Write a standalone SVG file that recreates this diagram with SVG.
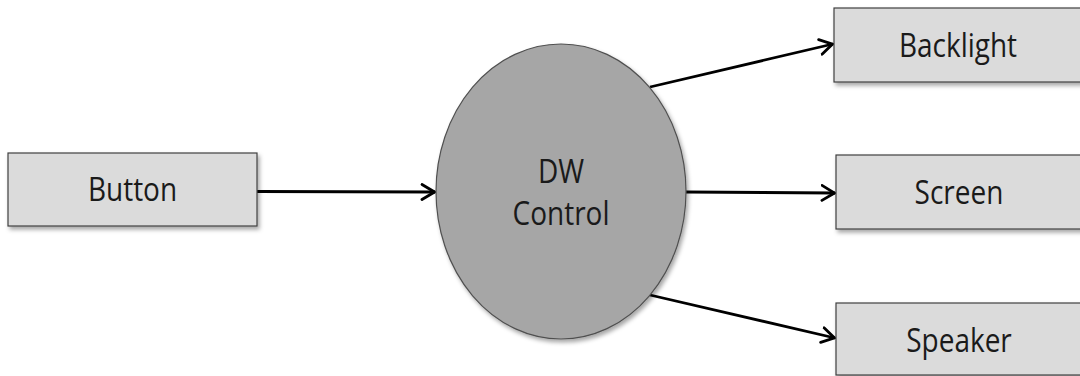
<svg xmlns="http://www.w3.org/2000/svg" width="1080" height="376" viewBox="0 0 1080 376">
<style>
.box{fill:#dbdbdb;stroke:#404040;stroke-width:1.2}
.ell{fill:#a6a6a6;stroke:#505050;stroke-width:1.2}
.lbl{font-family:"Open Sans","Noto Sans",sans-serif;font-size:28px;fill:#1a1a1a;text-anchor:middle}
.conn{stroke:#000;stroke-width:2.8;fill:none;marker-end:url(#arr)}
</style>
<defs>
<filter id="sh" x="-10%" y="-10%" width="130%" height="140%">
<feDropShadow dx="2" dy="3" stdDeviation="2" flood-color="#000" flood-opacity="0.35"/>
</filter>
<marker id="arr" viewBox="0 0 16 18" refX="14.5" refY="9" markerWidth="16" markerHeight="18" markerUnits="userSpaceOnUse" orient="auto">
<path d="M1.5,1.5 L14,9 L1.5,16.5" fill="none" stroke="#000" stroke-width="2.8" stroke-linejoin="miter" stroke-linecap="round"/>
</marker>
</defs>
<rect width="1080" height="376" fill="#fff"/>
<g id="connectors">
<line class="conn" x1="257" y1="191.5" x2="435" y2="192"/>
<line class="conn" x1="650" y1="87" x2="833" y2="44"/>
<line class="conn" x1="686" y1="192" x2="835" y2="193"/>
<line class="conn" x1="650" y1="295" x2="835" y2="338"/>
</g>
<g id="button">
<rect class="box" x="8" y="153" width="249" height="73" filter="url(#sh)"/>
<text class="lbl" transform="translate(132.5,201) scale(1,1.15)">Button</text>
</g>
<g id="dwcontrol">
<ellipse class="ell" cx="561" cy="191.5" rx="125" ry="147.5" filter="url(#sh)"/>
<text class="lbl" transform="translate(561,183) scale(1,1.15)">DW</text>
<text class="lbl" transform="translate(561,225) scale(1,1.15)">Control</text>
</g>
<g id="backlight">
<rect class="box" x="834" y="8" width="260" height="74" filter="url(#sh)"/>
<text class="lbl" transform="translate(958,57) scale(1,1.15)">Backlight</text>
</g>
<g id="screen">
<rect class="box" x="836" y="155" width="260" height="74" filter="url(#sh)"/>
<text class="lbl" transform="translate(959,204) scale(1,1.15)">Screen</text>
</g>
<g id="speaker">
<rect class="box" x="836" y="303" width="260" height="72" filter="url(#sh)"/>
<text class="lbl" transform="translate(959,352) scale(1,1.15)">Speaker</text>
</g>
</svg>
